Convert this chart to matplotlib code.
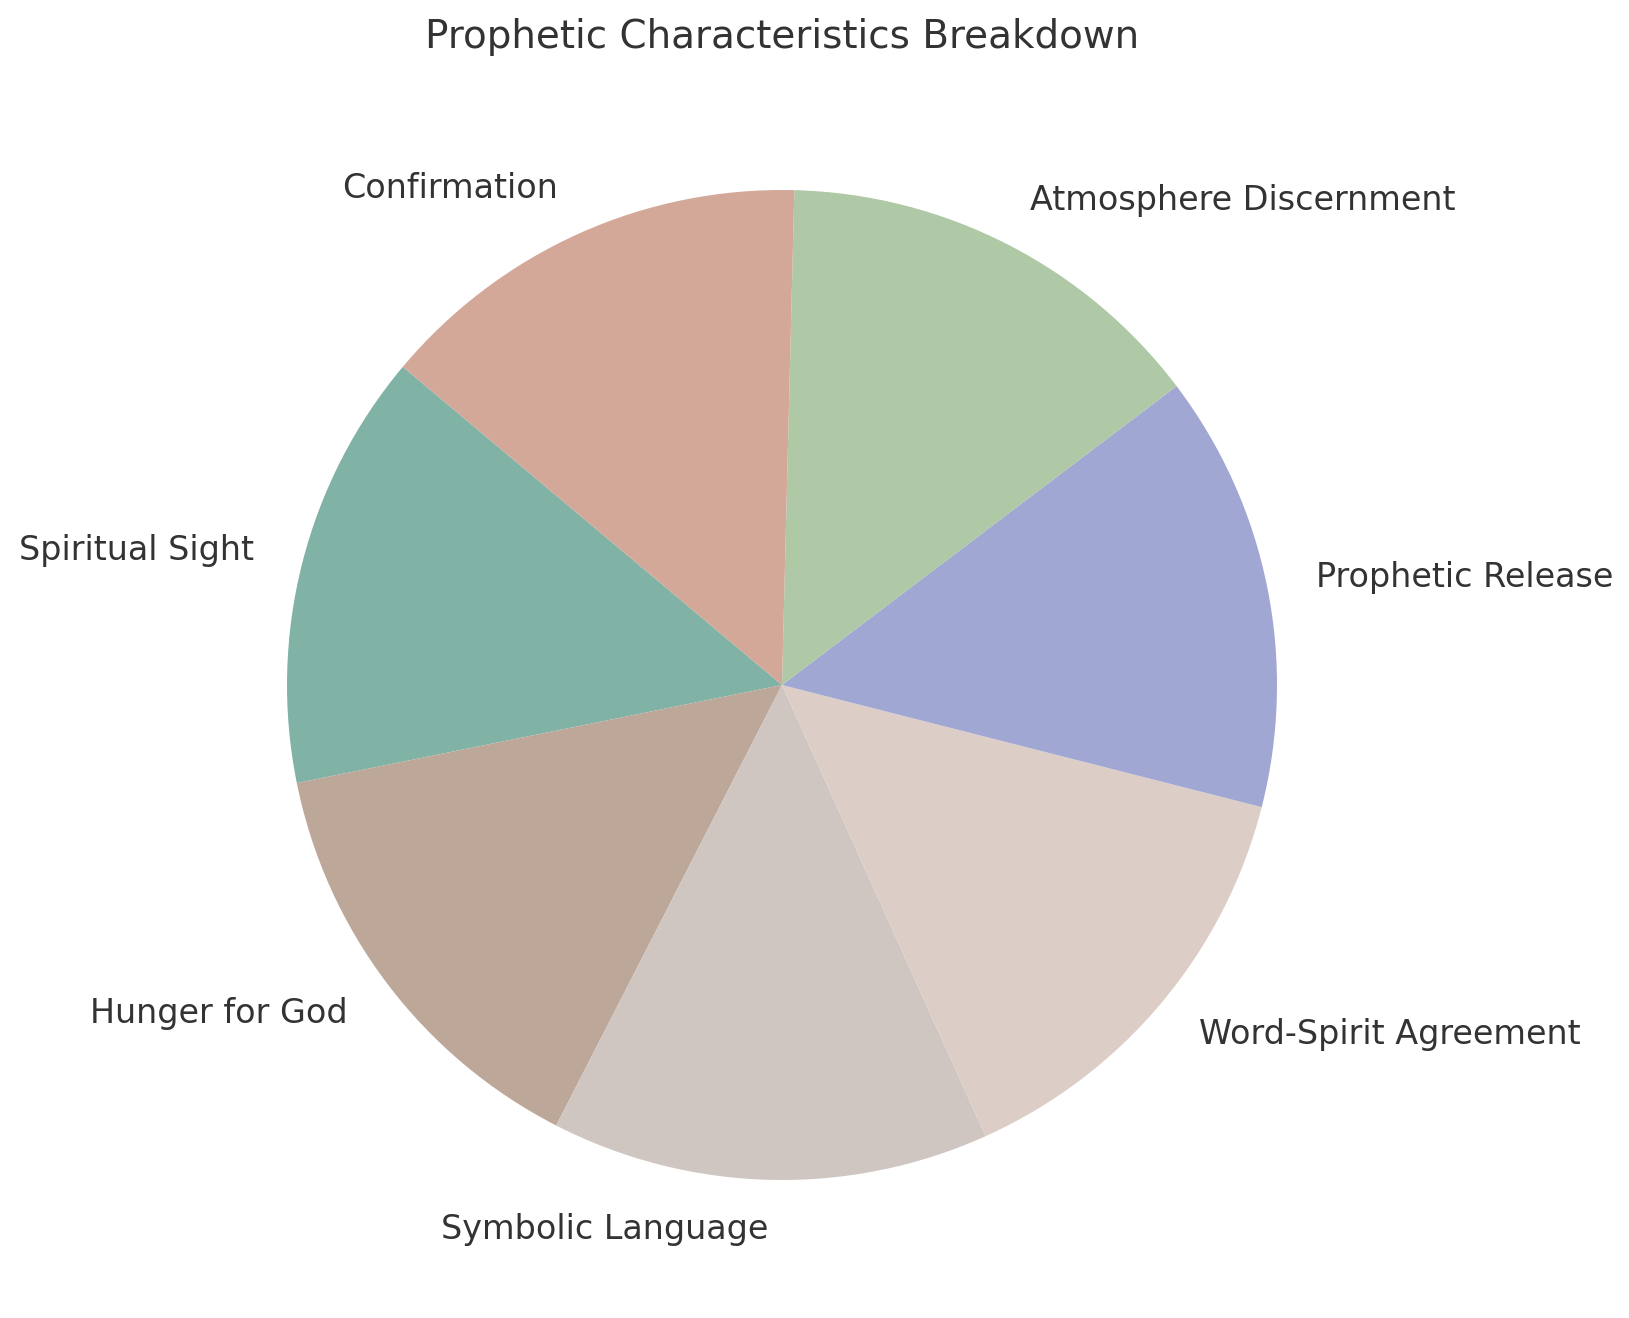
import matplotlib
matplotlib.use("Agg")
import matplotlib.pyplot as plt

labels = ["Spiritual Sight", "Hunger for God", "Symbolic Language",
          "Word-Spirit Agreement", "Prophetic Release",
          "Atmosphere Discernment", "Confirmation"]
values = [1, 1, 1, 1, 1, 1, 1]
colors = ["#80B2A5", "#BDA799", "#D0C6C1", "#DCCEC6", "#A0A7D2",
          "#AFC8A5", "#D4A898"]

W, H, DPI = 1629, 1318, 200
fig = plt.figure(figsize=(W / DPI, H / DPI), dpi=DPI)
cx, cy, r = 782, 685, 495
ax = fig.add_axes([(cx - r) / W, (H - cy - r) / H, 2 * r / W, 2 * r / H])

ax.pie(values, labels=labels, colors=colors, startangle=140,
       textprops={"fontsize": 12, "color": "#333333"})
ax.set_xlim(-1, 1)
ax.set_ylim(-1, 1)
ax.set_aspect("equal")
ax.axis("off")

fig.text(cx / W, 1 - 37 / H, "Prophetic Characteristics Breakdown",
         ha="center", va="center", fontsize=14, color="#333333")

fig.savefig("out.png", dpi=DPI)
